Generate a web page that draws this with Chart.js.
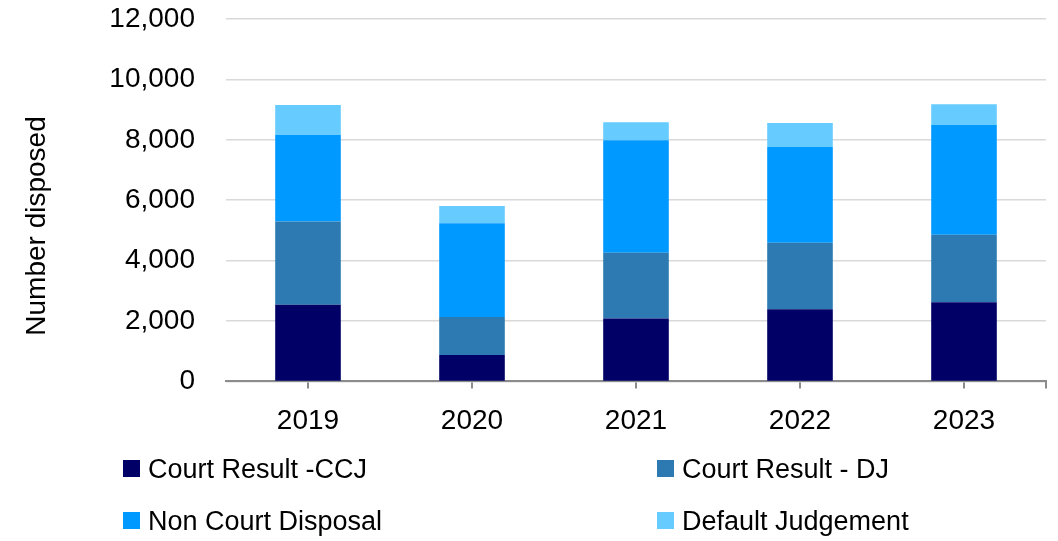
<!DOCTYPE html>
<html>
<head>
<meta charset="utf-8">
<script src="https://cdn.jsdelivr.net/npm/chart.js@4"></script>
<style>
html,body{margin:0;padding:0;background:#fff;}
#wrap{position:relative;width:1058px;height:541px;}
#c{position:absolute;left:0;top:0;}
.lg{position:absolute;font-family:"Liberation Sans",Arial,sans-serif;font-size:27px;color:#000;white-space:nowrap;line-height:32px;}
.lg i{position:absolute;width:17px;height:17px;top:7px;}
.lg span{position:absolute;top:0;}
</style>
</head>
<body>
<div id="wrap">
<canvas id="c" width="1058" height="541"></canvas>
<div id="legend"></div>
</div>
<script>
const categories = ["2019","2020","2021","2022","2023"];
const courtResultCCJ = [2534, 876, 2080, 2388, 2620];
const courtResultDJ = [2763, 1260, 2179, 2202, 2236];
const nonCourtDisposal = [2862, 3104, 3724, 3171, 3635];
const defaultJudgement = [995, 564, 597, 796, 686];
const seriesNames = ["Court Result -CCJ","Court Result - DJ","Non Court Disposal","Default Judgement"];
const seriesColors = ["#000066","#2C7AB1","#0099FF","#66CCFF"];
const yTicks = [0,2000,4000,6000,8000,10000,12000];
const yTitle = "Number disposed";

const FONT = "'Liberation Sans', Arial, sans-serif";
const seriesData = [courtResultCCJ, courtResultDJ, nonCourtDisposal, defaultJudgement];

const extras = {
  id:'extras',
  afterDraw(chart){
    const ctx = chart.ctx, a = chart.chartArea;
    ctx.save();
    ctx.strokeStyle = '#8c8c8c'; ctx.lineWidth = 2;
    ctx.beginPath(); ctx.moveTo(a.right, a.bottom); ctx.lineTo(a.right, a.bottom + 7); ctx.stroke();
    // y axis title
    ctx.translate(37, 226);
    ctx.rotate(-Math.PI/2);
    ctx.fillStyle = '#000';
    ctx.font = "28px " + FONT;
    ctx.textAlign = 'center'; ctx.textBaseline = 'middle';
    ctx.fillText(yTitle, 0, 0);
    ctx.restore();
  }
};

new Chart(document.getElementById('c'), {
  type: 'bar',
  data: {
    labels: categories,
    datasets: seriesData.map((d,i)=>({
      label: seriesNames[i], data: d, backgroundColor: seriesColors[i],
      borderWidth: 0, categoryPercentage: 1.0, barPercentage: 0.4
    }))
  },
  options: {
    responsive: false, animation: false,
    devicePixelRatio: 1,
    layout: { padding: { left: 0, right: 12, top: 19, bottom: 87 } },
    plugins: { legend: { display: false }, tooltip: { enabled: false } },
    scales: {
      x: {
        stacked: true,
        offset: true,
        grid: { display: true, offset: false, drawOnChartArea: false, drawTicks: true, tickLength: 7, color: '#8c8c8c', lineWidth: 2 },
        border: { display: true, color: '#8c8c8c', width: 2 },
        ticks: { color: '#000', font: { family: FONT, size: 28 }, padding: 16, maxRotation: 0 }
      },
      y: {
        stacked: true,
        min: 0, max: 12000,
        afterBuildTicks(scale){ scale.ticks = yTicks.map(v=>({value:v})); },
        afterFit(scale){ scale.width = 226; scale.paddingTop = 0; scale.paddingBottom = 0; },
        grid: { color: '#d9d9d9', lineWidth: 1.5, drawTicks: false },
        border: { display: false },
        ticks: { color: '#000', font: { family: FONT, size: 28 }, padding: 31,
          callback: v => v.toLocaleString('en-US') },
        title: { display: false }
      }
    }
  },
  plugins: [extras]
});

// legend (two columns)
const legendPos = [[123,453],[657,453],[123,505],[657,505]];
const lg = document.getElementById('legend');
seriesNames.forEach((n,i)=>{
  const d = document.createElement('div');
  d.className = 'lg';
  d.style.left = legendPos[i][0] + 'px';
  d.style.top = legendPos[i][1] + 'px';
  d.innerHTML = '<i style="background:'+seriesColors[i]+'"></i><span style="left:25px">'+n+'</span>';
  lg.appendChild(d);
});
</script>
</body>
</html>
